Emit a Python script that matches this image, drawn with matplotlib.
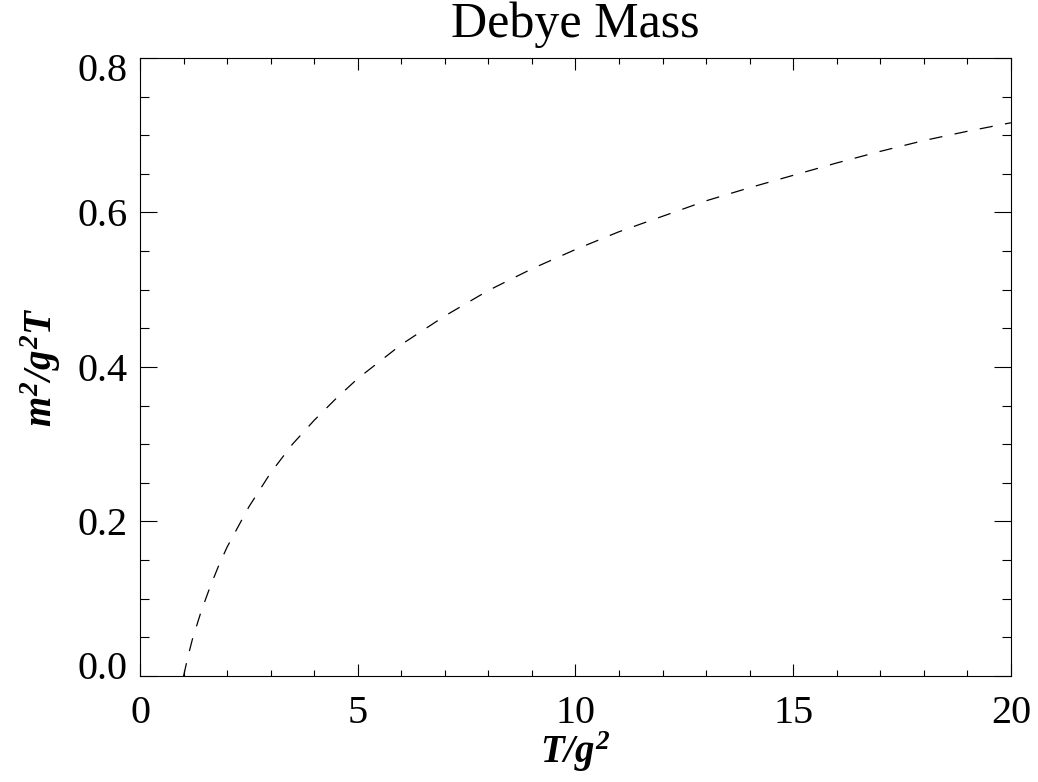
import matplotlib
matplotlib.use("Agg")
import matplotlib.pyplot as plt
import matplotlib.transforms as mtransforms
from matplotlib.ticker import MultipleLocator

# Debye mass curve, m^2/g^2T against T/g^2
t_over_g2 = [1.0, 1.1, 1.2, 1.4, 1.6, 1.8, 2.0, 2.5, 3.0, 3.5, 4.0, 4.5, 5.0,
             6.0, 7.0, 8.0, 9.0, 10.0, 11.0, 12.0, 13.0, 14.0, 15.0, 16.0,
             17.0, 18.0, 19.0, 20.0]
m2_over_g2t = [0.0, 0.025, 0.047, 0.083, 0.114, 0.142, 0.167, 0.219, 0.263,
               0.300, 0.331, 0.359, 0.385, 0.429, 0.466, 0.499, 0.527, 0.552,
               0.575, 0.595, 0.615, 0.632, 0.648, 0.664, 0.679, 0.693, 0.705,
               0.716]

plt.rcParams['font.family'] = ['Liberation Serif', 'DejaVu Serif']
plt.rcParams['mathtext.fontset'] = 'custom'
plt.rcParams['mathtext.it'] = 'Liberation Serif:italic:bold'
plt.rcParams['mathtext.rm'] = 'Liberation Serif:italic:bold'
plt.rcParams['mathtext.bf'] = 'Liberation Serif:italic:bold'
plt.rcParams['lines.scale_dashes'] = False

fig = plt.figure(figsize=(10.38, 7.82), dpi=100)
ax = fig.add_axes([0.1349, 0.1355, 0.839, 0.7905])

ax.plot(t_over_g2, m2_over_g2t, color='black', lw=0.9, dashes=(9.5, 9))

ax.set_xlim(0, 20)
ax.set_ylim(0, 0.8)
ax.set_xticks([0, 5, 10, 15, 20])
ax.set_yticks([0.0, 0.2, 0.4, 0.6, 0.8])
ax.xaxis.set_minor_locator(MultipleLocator(1))
ax.yaxis.set_minor_locator(MultipleLocator(0.05))
ax.xaxis.set_major_formatter(plt.FuncFormatter(lambda v, p: '%d' % v))
ax.yaxis.set_major_formatter(plt.FuncFormatter(lambda v, p: '%.1f' % v))

for s in ax.spines.values():
    s.set_linewidth(0.8)

ax.tick_params(which='both', direction='in', top=True, right=True,
               width=0.8, labelsize=29)
ax.tick_params(axis='x', which='major', length=8.6, pad=14)
ax.tick_params(axis='x', which='minor', length=4.3)
ax.tick_params(axis='y', which='major', length=12.2, pad=9)
ax.tick_params(axis='y', which='minor', length=6.3)

ax.set_title('Debye Mass', fontsize=36, pad=15)
ax.set_xlabel(r'$T/g^2$', fontsize=28, labelpad=-2)
ax.set_ylabel(r'$m^2/g^2T$', fontsize=28, labelpad=10)

# keep the end labels of the y axis inside the frame
fig.canvas.draw()
for tk in ax.yaxis.get_major_ticks():
    loc = tk.get_loc()
    if abs(loc) < 1e-9:
        dy = 11
    elif abs(loc - 0.8) < 1e-9:
        dy = -9
    else:
        continue
    off = mtransforms.ScaledTranslation(0, dy / 100.0, fig.dpi_scale_trans)
    tk.label1.set_transform(tk.label1.get_transform() + off)

fig.savefig('out.png', dpi=100)
